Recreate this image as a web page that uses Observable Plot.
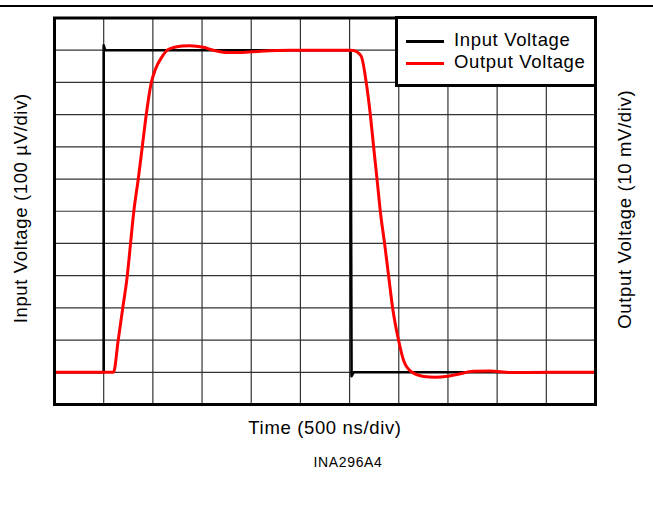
<!DOCTYPE html>
<html><head><meta charset="utf-8">
<script src="https://cdn.jsdelivr.net/npm/d3@7"></script>
<script src="https://cdn.jsdelivr.net/npm/@observablehq/plot@0.6"></script>
<style>
html,body{margin:0;padding:0;background:#fff;}
#wrap{position:relative;width:653px;height:518px;overflow:hidden;font-family:"Liberation Sans",Arial,sans-serif;}
#chart svg{display:block;}
#topline{position:absolute;left:0;top:5px;width:653px;height:2px;background:#000;}
#legend{position:absolute;left:395px;top:16px;width:202px;height:71px;box-sizing:border-box;border:3px solid #000;background:#fff;}
.sw{position:absolute;left:8px;width:38px;height:3px;}
.lt{position:absolute;left:56px;font-size:18.5px;line-height:18px;letter-spacing:0.65px;color:#000;white-space:nowrap;}
</style></head>
<body><div id="wrap"><div id="chart"></div><div id="topline"></div><div id="legend"></div></div>
<script>
// Axis divisions (time: 500 ns/div, voltage: per-div)
const gridX = [0,1,2,3,4,5,6,7,8,9,10,11];
const gridY = [0,1,2,3,4,5,6,7,8,9,10,11,12];

// Series names and colours
const seriesNames = ["Input Voltage", "Output Voltage"];
const seriesColors = ["#000000", "#ff0000"];

// Input voltage (divisions)
const inputT = [0, 1.0, 1.0, 1.03, 6.02, 6.04, 6.08, 11];
const inputV = [1, 1, 11.15, 11.0, 11.0, 0.88, 1.0, 1.0];

// Output voltage (divisions)
const outputT = [0, 1.14, 1.2, 1.295, 1.388, 1.478, 1.545, 1.612, 1.701, 1.783, 1.864, 1.965, 2.05, 2.175, 2.32, 2.6, 2.75, 3.03, 3.23, 3.52, 3.78, 4.19, 4.8, 6.0, 6.08, 6.234, 6.341, 6.423, 6.49, 6.559, 6.626, 6.713, 6.795, 6.876, 6.998, 7.10, 7.27, 7.51, 7.74, 8.0, 8.18, 8.52, 8.86, 9.27, 10.08, 11];
const outputV = [1, 1.0, 1.0, 1.99, 3.0, 3.97, 4.98, 5.99, 6.98, 7.98, 8.98, 9.97, 10.4, 10.77, 11.03, 11.13, 11.14, 11.09, 11.0, 10.93, 10.93, 10.97, 11.0, 11.0, 10.99, 10.82, 9.97, 8.98, 7.98, 6.98, 5.98, 4.98, 3.97, 2.99, 1.98, 1.36, 1.0, 0.87, 0.845, 0.88, 0.93, 1.03, 1.04, 0.99, 1.0, 1.0];

// Texts
const xTitle = "Time (500 ns/div)";
const yLeftTitle = "Input Voltage (100 µV/div)";
const yRightTitle = "Output Voltage (10 mV/div)";
const caption = "INA296A4";

const input = inputT.map((t, i) => ({t, v: inputV[i]}));
const output = outputT.map((t, i) => ({t, v: outputV[i]}));

const font = "'Liberation Sans', Arial, sans-serif";
const chart = Plot.plot({
  width: 653,
  height: 518,
  marginLeft: 54,
  marginRight: 58,
  marginTop: 17.5,
  marginBottom: 114,
  style: {fontFamily: font, background: "#fff", letterSpacing: "0.65px"},
  x: {domain: [0, 11], axis: null},
  y: {domain: [0, 12], axis: null},
  marks: [
    Plot.ruleX(gridX, {x: d => d, stroke: "#333", strokeWidth: 1.2}),
    Plot.ruleY(gridY, {y: d => d, stroke: "#333", strokeWidth: 1.2}),
    Plot.line(input, {x: "t", y: "v", stroke: seriesColors[0], strokeWidth: 2.6, curve: "linear"}),
    Plot.line(output, {x: "t", y: "v", stroke: seriesColors[1], strokeWidth: 3, curve: "monotone-x"}),
    Plot.frame({stroke: "#000", strokeWidth: 3}),
    Plot.text([xTitle], {text: d => d, frameAnchor: "bottom", textAnchor: "middle", dy: 29, fontSize: 18.5, fill: "#000", fontFamily: font}),
    Plot.text([caption], {text: d => d, frameAnchor: "bottom", textAnchor: "middle", dx: 23, dy: 62, fontSize: 14, fill: "#000", fontFamily: font}),
    Plot.text([yLeftTitle], {text: d => d, frameAnchor: "left", textAnchor: "middle", rotate: -90, dx: -33, dy: -3, fontSize: 18.5, fill: "#000", fontFamily: font}),
    Plot.text([yRightTitle], {text: d => d, frameAnchor: "right", textAnchor: "middle", rotate: -90, dx: 30, dy: -2, fontSize: 18.5, fill: "#000", fontFamily: font})
  ]
});
document.getElementById("chart").appendChild(chart);

// Legend (inside the plot, top-right)
const legend = document.getElementById("legend");
seriesNames.forEach((name, i) => {
  const sw = document.createElement("div");
  sw.className = "sw";
  sw.style.top = (20.5 + i * 22.5) + "px";
  sw.style.background = seriesColors[i];
  legend.appendChild(sw);
  const t = document.createElement("div");
  t.className = "lt";
  t.style.top = (11.5 + i * 22.5) + "px";
  t.textContent = name;
  legend.appendChild(t);
});
</script>
</body></html>
